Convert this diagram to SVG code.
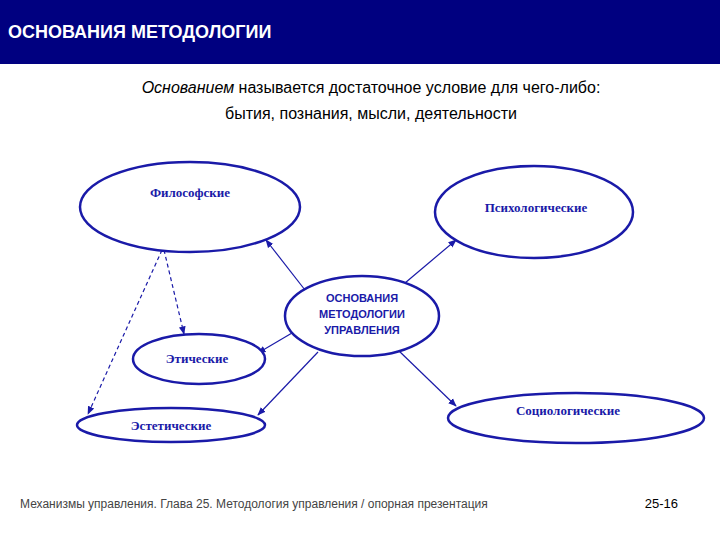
<svg xmlns="http://www.w3.org/2000/svg" width="720" height="540" viewBox="0 0 720 540">
<style>
.n{fill:#fff;stroke:#1a1aa8;stroke-width:2.5}
.t{font-family:"Liberation Serif",serif;font-weight:bold;font-size:13px;fill:#1a1aa8;text-anchor:middle}
.c{font-family:"Liberation Sans",sans-serif;font-weight:bold;font-size:11px;fill:#1a1aa8;text-anchor:middle}
.l{stroke:#1a1aa8;stroke-width:1.2;fill:none;marker-end:url(#a)}
</style>
<defs><marker id="a" viewBox="0 0 10 10" refX="9" refY="5" markerWidth="7" markerHeight="7" orient="auto"><path d="M0,1L10,5L0,9z" fill="#1a1aa8"/></marker></defs>
<rect width="720" height="540" fill="#fff"/>
<rect width="720" height="64" fill="#000080"/>
<text x="8" y="38" font-family="Liberation Sans,sans-serif" font-weight="bold" font-size="18" fill="#fff">ОСНОВАНИЯ МЕТОДОЛОГИИ</text>
<text x="371" y="93" font-family="Liberation Sans,sans-serif" font-size="16" fill="#000" text-anchor="middle"><tspan font-style="italic">Основанием</tspan> называется достаточное условие для чего-либо:</text>
<text x="371" y="119" font-family="Liberation Sans,sans-serif" font-size="16" fill="#000" text-anchor="middle">бытия, познания, мысли, деятельности</text>
<g id="connectors">
<line class="l" x1="305" y1="290" x2="266" y2="240"/>
<line class="l" x1="405" y1="283" x2="456" y2="240"/>
<line class="l" x1="292" y1="333" x2="258" y2="353"/>
<line class="l" x1="318" y1="352" x2="258" y2="415"/>
<line class="l" x1="398" y1="350" x2="456" y2="406"/>
<line class="l" stroke-dasharray="4,3" x1="164" y1="250" x2="184" y2="334"/>
<line class="l" stroke-dasharray="4,3" x1="162" y1="250" x2="88" y2="414"/>
</g>
<g id="philosophical"><ellipse class="n" cx="190" cy="207" rx="110" ry="45"/><text class="t" x="190" y="197">Философские</text></g>
<g id="psychological"><ellipse class="n" cx="534" cy="212" rx="99" ry="46"/><text class="t" x="536" y="212">Психологические</text></g>
<g id="center"><ellipse class="n" cx="362" cy="316" rx="77" ry="40" stroke-width="3"/><text class="c" x="362" y="302">ОСНОВАНИЯ</text><text class="c" x="362" y="318">МЕТОДОЛОГИИ</text><text class="c" x="362" y="334">УПРАВЛЕНИЯ</text></g>
<g id="ethical"><ellipse class="n" cx="199" cy="359" rx="66" ry="25"/><text class="t" x="197" y="363">Этические</text></g>
<g id="aesthetic"><ellipse class="n" cx="171" cy="425" rx="94" ry="17"/><text class="t" x="171" y="430">Эстетические</text></g>
<g id="sociological"><ellipse class="n" cx="576" cy="418" rx="128" ry="25"/><text class="t" x="568" y="415">Социологические</text></g>
<text x="20" y="508" font-family="Liberation Sans,sans-serif" font-size="12" fill="#444">Механизмы управления. Глава 25. Методология управления / опорная презентация</text>
<text x="678" y="508" font-family="Liberation Sans,sans-serif" font-size="13" fill="#000" text-anchor="end">25-16</text>
</svg>
